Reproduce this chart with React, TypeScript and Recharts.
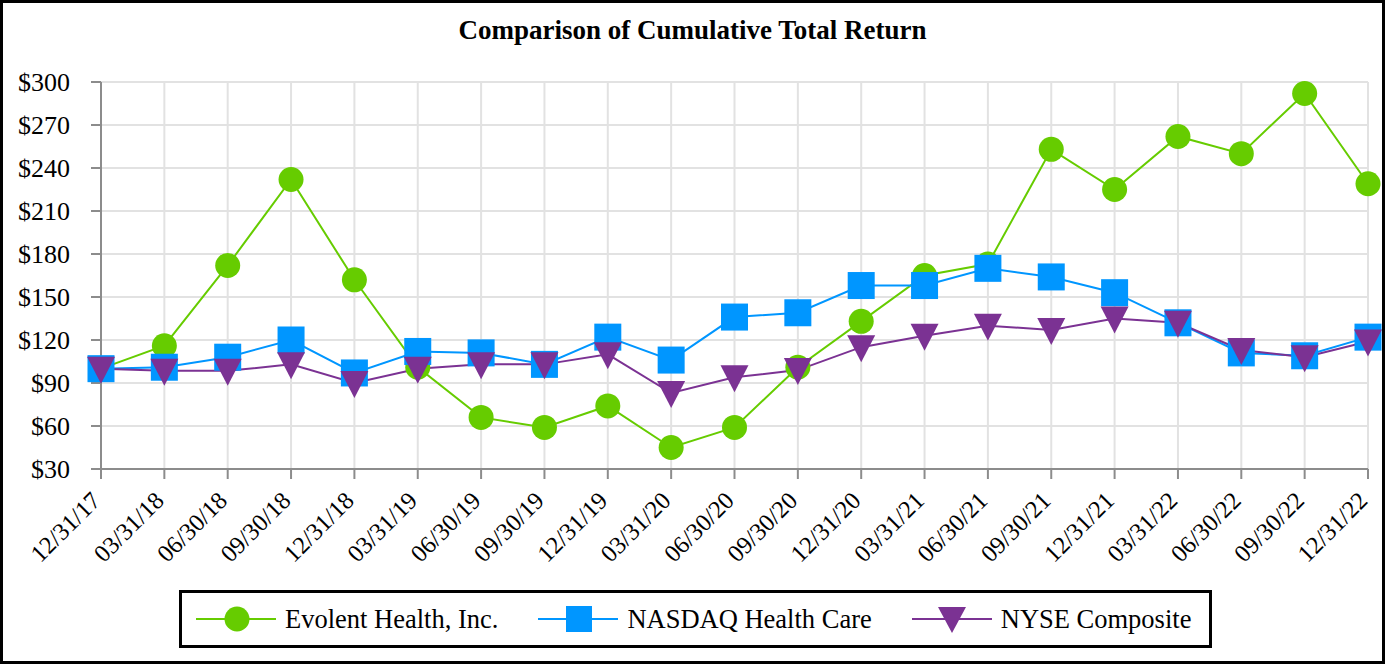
import React from 'react';
import { LineChart, Line, XAxis, YAxis, CartesianGrid, Legend } from 'recharts';

const dates = ['12/31/17','03/31/18','06/30/18','09/30/18','12/31/18','03/31/19','06/30/19','09/30/19','12/31/19','03/31/20','06/30/20','09/30/20','12/31/20','03/31/21','06/30/21','09/30/21','12/31/21','03/31/22','06/30/22','09/30/22','12/31/22'];
const evolent = [100,116,172,232,162,101,66,59,74,45,59,101,133,165,173,253,225,262,250,292,229];
const nasdaqHC = [100,101,108,120,97,112,111,103,122,106,136,139,158,158,170,164,153,132,111,109,122];
const nyse = [100,98.5,98.5,103,90,100,103,103,110,83,94,99,115,123,130,127,135,132,113,108,119];
const yTicks = [30,60,90,120,150,180,210,240,270,300];

const seriesNames = ['Evolent Health, Inc.', 'NASDAQ Health Care', 'NYSE Composite'];
const GREEN = '#66CC00';
const BLUE = '#0096FF';
const PURPLE = '#7B3293';

const data = dates.map((d, i) => ({ date: d, evolent: evolent[i], nasdaq: nasdaqHC[i], nyse: nyse[i] }));

const FONT = '"Liberation Serif", "Times New Roman", serif';

const CircleDot = (props: any) => {
  const { cx, cy, index } = props;
  if (cx == null || cy == null) return <g key={`c-${index}`} />;
  return <circle key={`c-${index}`} cx={cx} cy={cy} r={12.5} fill={GREEN} />;
};
const SquareDot = (props: any) => {
  const { cx, cy, index } = props;
  if (cx == null || cy == null) return <g key={`s-${index}`} />;
  return <rect key={`s-${index}`} x={cx - 13.5} y={cy - 13.5} width={27} height={27} fill={BLUE} />;
};
const TriDot = (props: any) => {
  const { cx, cy, index } = props;
  if (cx == null || cy == null) return <g key={`t-${index}`} />;
  return <polygon key={`t-${index}`} points={`${cx - 14},${cy - 12} ${cx + 14},${cy - 12} ${cx},${cy + 15}`} fill={PURPLE} />;
};

const XTick = (props: any) => {
  const { x, y, payload } = props;
  const ax = x + 1;
  const ay = y + 21;
  return (
    <text x={ax} y={ay} transform={`rotate(-45, ${ax}, ${ay})`} textAnchor="end" fontSize={24.5} fontFamily={FONT} fill="#000">
      {payload.value}
    </text>
  );
};

const LegendIcon = ({ kind, color }: { kind: string; color: string }) => (
  <svg width={80} height={30} style={{ display: 'block' }}>
    <line x1={0} y1={15} x2={80} y2={15} stroke={color} strokeWidth={2} />
    {kind === 'circle' && <circle cx={41} cy={15} r={12.5} fill={color} />}
    {kind === 'square' && <rect x={28} y={2} width={26} height={26} fill={color} />}
    {kind === 'tri' && <polygon points={`26,3 54,3 40,29`} fill={color} />}
  </svg>
);

const renderLegend = () => {
  const items = [
    { name: seriesNames[0], kind: 'circle', color: GREEN },
    { name: seriesNames[1], kind: 'square', color: BLUE },
    { name: seriesNames[2], kind: 'tri', color: PURPLE },
  ];
  return (
    <div style={{ width: '100%', height: '100%', boxSizing: 'border-box', border: '3px solid #000', display: 'flex', alignItems: 'center', paddingLeft: 14, background: '#fff' }}>
      {items.map((it, i) => (
        <div key={it.name} style={{ display: 'flex', alignItems: 'center', marginLeft: i === 0 ? 0 : 40 }}>
          <LegendIcon kind={it.kind} color={it.color} />
          <span style={{ marginLeft: 9, fontSize: 26.5, fontFamily: FONT, color: '#000', whiteSpace: 'nowrap', lineHeight: '30px' }}>{it.name}</span>
        </div>
      ))}
    </div>
  );
};

export default function App() {
  const W = 1385;
  const H = 664;
  return (
    <div style={{ position: 'absolute', left: 0, top: 0, width: W, height: H, background: '#fff' }}>
      <div style={{ position: 'absolute', left: 0, top: 15, width: W, textAlign: 'center', fontFamily: FONT, fontWeight: 'bold', fontSize: 27, lineHeight: '30px', color: '#000' }}>
        Comparison of Cumulative Total Return
      </div>
      <LineChart width={W} height={H} data={data} margin={{ top: 82, right: 17, left: 0, bottom: 95 }}>
        <CartesianGrid stroke="#E2E2E2" strokeWidth={2} />
        <XAxis
          dataKey="date"
          interval={0}
          tickSize={10}
          tickLine={{ stroke: '#8C8C8C', strokeWidth: 2 }}
          axisLine={{ stroke: '#8C8C8C', strokeWidth: 2 }}
          tick={<XTick />}
          height={100}
        />
        <YAxis
          domain={[30, 300]}
          ticks={yTicks}
          interval={0}
          width={101}
          tickSize={10}
          tickMargin={21}
          tickLine={{ stroke: '#8C8C8C', strokeWidth: 2 }}
          axisLine={{ stroke: '#8C8C8C', strokeWidth: 2 }}
          tickFormatter={(v: number) => `$${v}`}
          tick={{ fontSize: 26, fontFamily: FONT, fill: '#000' }}
        />
        <Legend
          layout="horizontal"
          verticalAlign="middle"
          align="center"
          content={renderLegend}
          wrapperStyle={{ position: 'absolute', left: 179, top: 590, width: 1033, height: 58 }}
        />
        <Line type="linear" dataKey="evolent" name={seriesNames[0]} stroke={GREEN} strokeWidth={2} dot={CircleDot} activeDot={false} isAnimationActive={false} />
        <Line type="linear" dataKey="nasdaq" name={seriesNames[1]} stroke={BLUE} strokeWidth={2} dot={SquareDot} activeDot={false} isAnimationActive={false} />
        <Line type="linear" dataKey="nyse" name={seriesNames[2]} stroke={PURPLE} strokeWidth={2} dot={TriDot} activeDot={false} isAnimationActive={false} />
      </LineChart>
      <div style={{ position: 'absolute', left: 0, top: 0, width: W, height: H, boxSizing: 'border-box', border: '3px solid #000', pointerEvents: 'none' }} />
    </div>
  );
}
